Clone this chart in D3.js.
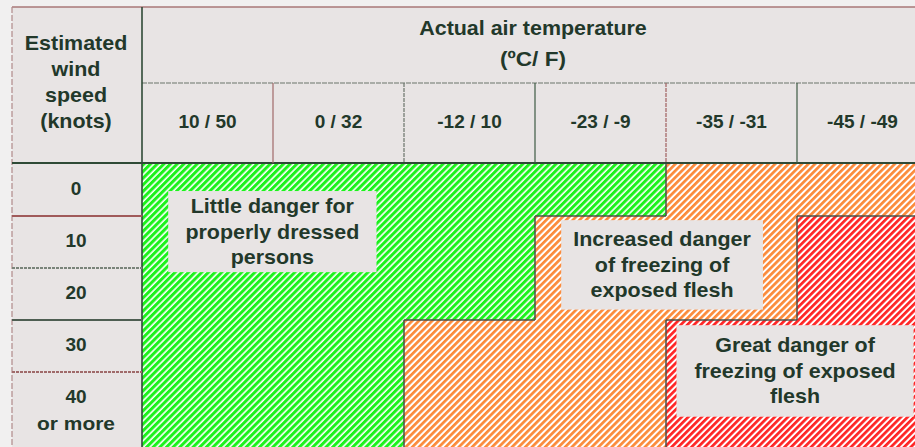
<!DOCTYPE html>
<html>
<head>
<meta charset="utf-8">
<script src="https://cdn.jsdelivr.net/npm/d3@7"></script>
<style>
  html, body { margin: 0; padding: 0; background: #f1f0f0; }
  svg { display: block; font-family: "Liberation Sans", Arial, sans-serif; font-weight: bold; }
</style>
</head>
<body>
<div id="chart"></div>
<script>
// temperature columns (C / F)
var tempLabels = ['10 / 50', '0 / 32', '-12 / 10', '-23 / -9', '-35 / -31', '-45 / -49'];
// wind speed rows (knots)
var windSpeeds = ['0', '10', '20', '30', '40'];
var windSub = ['', '', '', '', 'or more'];
// danger level per row (wind) and column (temp)
var dangerLevels = [
  [0, 0, 0, 0, 1, 1],
  [0, 0, 0, 1, 1, 2],
  [0, 0, 0, 1, 1, 2],
  [0, 0, 1, 1, 2, 2],
  [0, 0, 1, 1, 2, 2]
];
var zoneColors = ['#1cf21c', '#fb8a3a', '#ff2424'];
var zoneText = [
  ['Little danger for', 'properly dressed', 'persons'],
  ['Increased danger', 'of  freezing of', 'exposed flesh'],
  ['Great danger of', 'freezing of exposed', 'flesh']
];
var leftHeader = ['Estimated', 'wind', 'speed', '(knots)'];
var topHeader = ['Actual air temperature', '(\u00baC/ F)'];

var width = 915, height = 447;
var outerL = 12, outerT = 7, colX = 142, headMid = 83, bodyTop = 164;
var textColor = '#22382a';

var svg = d3.select('#chart').append('svg')
    .attr('width', width)
    .attr('height', height);

var x = d3.scaleBand().domain(d3.range(tempLabels.length)).range([colX, 928]);
var y = d3.scaleBand().domain(d3.range(windSpeeds.length)).range([bodyTop, 424]);
// grid units -> pixels, used to place the label boxes
var gx = d3.scaleLinear().domain([0, tempLabels.length]).range(x.range());
var gy = d3.scaleLinear().domain([0, windSpeeds.length]).range(y.range());

function rowH(i) {
  return i === windSpeeds.length - 1 ? height - y(i) : y.bandwidth();
}

// hatch patterns
var defs = svg.append('defs');
var hp = 4.7; // stripe period
zoneColors.forEach(function(c, i) {
  var p = defs.append('pattern')
      .attr('id', 'hatch' + i)
      .attr('patternUnits', 'userSpaceOnUse')
      .attr('width', hp).attr('height', hp)
      .attr('patternTransform', 'rotate(45)');
  p.append('rect').attr('width', hp).attr('height', hp).attr('fill', '#fff');
  p.append('rect').attr('width', i === 0 ? 3.1 : 2.7).attr('height', hp).attr('fill', c);
});

// table background
svg.append('rect')
    .attr('x', outerL).attr('y', outerT)
    .attr('width', width - outerL).attr('height', height - outerT)
    .attr('fill', '#e8e4e4');

// cells
var cells = [];
dangerLevels.forEach(function(row, r) {
  row.forEach(function(lv, c) { cells.push({r: r, c: c, lv: lv}); });
});

svg.append('g').selectAll('rect')
  .data(cells)
  .enter()
    .append('rect')
    .attr('x', function(d) { return x(d.c); })
    .attr('y', function(d) { return y(d.r); })
    .attr('width', x.bandwidth())
    .attr('height', function(d) { return rowH(d.r); })
    .attr('fill', function(d) { return 'url(#hatch' + d.lv + ')'; });

// zone borders, where the level changes
var borders = [];
cells.forEach(function(d) {
  if (d.c < tempLabels.length - 1 && dangerLevels[d.r][d.c + 1] !== d.lv) {
    borders.push([x(d.c + 1), y(d.r), x(d.c + 1), y(d.r) + rowH(d.r)]);
  }
  if (d.r < windSpeeds.length - 1 && dangerLevels[d.r + 1][d.c] !== d.lv) {
    borders.push([x(d.c), y(d.r + 1), x(d.c) + x.bandwidth(), y(d.r + 1)]);
  }
});
svg.append('g').selectAll('line')
  .data(borders)
  .enter()
    .append('line')
    .attr('x1', function(d) { return d[0]; })
    .attr('y1', function(d) { return d[1]; })
    .attr('x2', function(d) { return d[2]; })
    .attr('y2', function(d) { return d[3]; })
    .attr('stroke', '#4b5049')
    .attr('stroke-width', 1.5);

// label boxes, in grid units
var boxes = [
  {z: 0, c0: 0.2, c1: 1.79, r0: 0.52, r1: 2.08},
  {z: 1, c0: 3.2, c1: 4.74, r0: 1.08, r1: 2.8},
  {z: 2, c0: 4.08, c1: 5.89, r0: 3.1, r1: 4.86}
];
var lb = svg.append('g').selectAll('g')
  .data(boxes)
  .enter()
    .append('g');
lb.append('rect')
    .attr('x', function(d) { return gx(d.c0); })
    .attr('y', function(d) { return gy(d.r0); })
    .attr('width', function(d) { return gx(d.c1) - gx(d.c0); })
    .attr('height', function(d) { return gy(d.r1) - gy(d.r0); })
    .attr('fill', '#e8e4e4');
lb.each(function(d) {
  var g = d3.select(this);
  var cx = (gx(d.c0) + gx(d.c1)) / 2;
  var cy = (gy(d.r0) + gy(d.r1)) / 2;
  zoneText[d.z].forEach(function(t, i) {
    g.append('text')
        .attr('transform', 'translate(' + cx + ',' + (cy + (i - 1) * 25.5 + 7) + ') scale(1.1,1)')
        .attr('text-anchor', 'middle')
        .attr('font-size', 19.5)
        .attr('fill', textColor)
        .text(t);
  });
});

// header grid lines
var grid = svg.append('g').attr('fill', 'none');
grid.append('line')
    .attr('x1', outerL).attr('x2', width).attr('y1', outerT).attr('y2', outerT)
    .attr('stroke', '#a87878').attr('stroke-width', 1.5);
grid.append('line')
    .attr('x1', outerL).attr('x2', outerL).attr('y1', outerT).attr('y2', height)
    .attr('stroke', '#b08a8a').attr('stroke-width', 1.2).attr('stroke-dasharray', '6,2');
grid.append('line')
    .attr('x1', colX).attr('x2', width).attr('y1', headMid).attr('y2', headMid)
    .attr('stroke', '#6a746a').attr('stroke-width', 1.2).attr('stroke-dasharray', '5,1');
grid.append('line')
    .attr('x1', outerL).attr('x2', width).attr('y1', bodyTop - 1).attr('y2', bodyTop - 1)
    .attr('stroke', '#2f4a36').attr('stroke-width', 2);
grid.append('line')
    .attr('x1', colX).attr('x2', colX).attr('y1', outerT).attr('y2', height)
    .attr('stroke', '#2f4a36').attr('stroke-width', 1.6);

var colLineColors = ['#a06a6a', '#6a746a', '#3d5a44', '#a06060', '#3d5a44'];
grid.selectAll('.colline')
  .data(d3.range(1, tempLabels.length))
  .enter()
    .append('line')
    .attr('class', 'colline')
    .attr('x1', function(d) { return x(d); })
    .attr('x2', function(d) { return x(d); })
    .attr('y1', headMid).attr('y2', bodyTop - 1)
    .attr('stroke', function(d, i) { return colLineColors[i]; })
    .attr('stroke-width', 1.2)
    .attr('stroke-dasharray', function(d, i) { return i % 2 ? '4,1' : null; });

var rowLineColors = ['#a05a5a', '#7a847a', '#4e5e52', '#a06a6a'];
grid.selectAll('.rowline')
  .data(d3.range(1, windSpeeds.length))
  .enter()
    .append('line')
    .attr('class', 'rowline')
    .attr('x1', outerL).attr('x2', colX)
    .attr('y1', function(d) { return y(d); })
    .attr('y2', function(d) { return y(d); })
    .attr('stroke', function(d, i) { return rowLineColors[i]; })
    .attr('stroke-width', 1.8)
    .attr('stroke-dasharray', function(d, i) { return i % 2 ? '3,1' : null; });

// header texts
var hdr = svg.append('g').attr('fill', textColor).attr('text-anchor', 'middle');
var leftCx = 76;
leftHeader.forEach(function(t, i) {
  hdr.append('text')
      .attr('transform', 'translate(' + leftCx + ',' + (50 + i * 26) + ') scale(1.1,1)')
      .attr('font-size', 19.5)
      .text(t);
});
var topCx = 533;
topHeader.forEach(function(t, i) {
  hdr.append('text')
      .attr('transform', 'translate(' + topCx + ',' + (35 + i * 31) + ') scale(1.1,1)')
      .attr('font-size', i ? 20.5 : 19.5)
      .text(t);
});

hdr.selectAll('.templ')
  .data(tempLabels)
  .enter()
    .append('text')
    .attr('class', 'templ')
    .attr('x', function(d, i) { return x(i) + x.bandwidth() / 2; })
    .attr('y', 128)
    .attr('font-size', 19)
    .text(function(d) { return d; });

hdr.selectAll('.windl')
  .data(windSpeeds)
  .enter()
    .append('text')
    .attr('class', 'windl')
    .attr('x', leftCx)
    .attr('y', function(d, i) { return y(i) + 31; })
    .attr('font-size', 19)
    .text(function(d) { return d; });

hdr.selectAll('.winds')
  .data(windSub)
  .enter()
    .append('text')
    .attr('class', 'winds')
    .attr('transform', function(d, i) { return 'translate(' + leftCx + ',' + (y(i) + 58) + ') scale(1.1,1)'; })
    .attr('font-size', 19)
    .text(function(d) { return d; });
</script>
</body>
</html>
